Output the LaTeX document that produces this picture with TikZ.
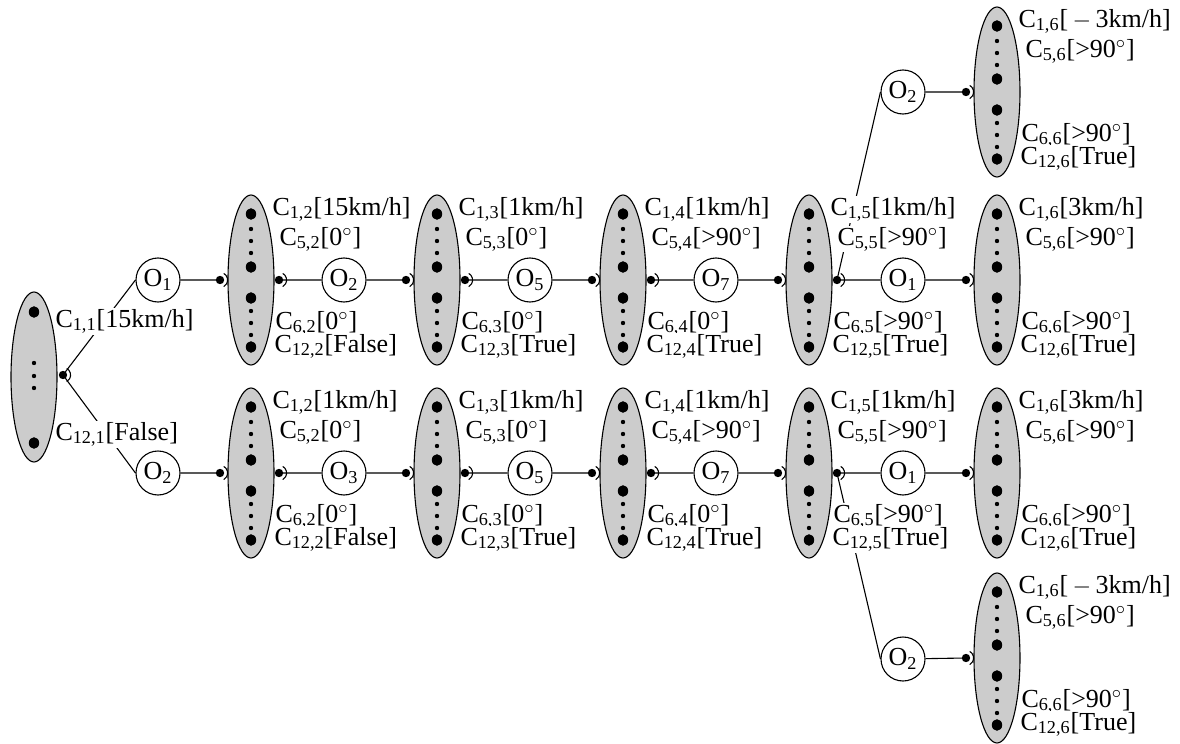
\documentclass[tikz,border=0pt]{standalone}
\usepackage{fontspec}
\setmainfont{Liberation Serif}
\usepackage{tikz}
\usetikzlibrary{shapes.geometric}
\usetikzlibrary{calc}

\newcommand{\cv}[1]{C\textsubscript{#1}}
\newcommand{\ov}[1]{O\textsubscript{#1}}
\newcommand{\dg}{$^\circ$}
% one state: ellipse with its dots and its two sockets
\newcommand{\clu}[3]{%
  \node[grp] (#1) at (#2,#3) {};
  \foreach \d in {-66,-13,18,67} {\fill (#2,#3+\d) ellipse (2.6pt and 2.9pt);}
  \foreach \d in {-51,-39,-27,31,43,55} {\fill (#2,#3+\d) circle (1.1pt);}
  \coordinate (#1-l) at (#2-31,#3);
  \coordinate (#1-r) at (#2+28,#3);
}
\newcommand{\labs}[5]{%
  \node[lab] (#1-a) at ($(#1)+(20,-65)$) {#2};
  \node[lab] (#1-b) at ($(#1)+(27,-35)$) {#3};
  \node[lab] (#1-c) at ($(#1)+(23,49)$) {#4};
  \node[lab] (#1-d) at ($(#1)+(22,72)$) {#5};
}
\newcommand{\sock}[1]{\fill (#1) circle (2.1pt); \draw ($(#1)+(60:3.8pt)$) arc[start angle=60,end angle=-60,radius=3.8pt];}

\begin{document}
\fontsize{13}{15}\selectfont
\begin{tikzpicture}[x=0.5pt,y=-0.5pt,line width=0.55pt,
    grp/.style={ellipse,draw,fill=gray!40,minimum width=23pt,minimum height=85pt,inner sep=0pt},
    op/.style={circle,draw,fill=white,minimum size=22pt,inner sep=0pt},
    lab/.style={anchor=base west,fill=white,inner sep=0.5pt}]
  \useasboundingbox (0,0) rectangle (1180,744);

  % start state
  \node[grp] (e1) at (34,377) {};
  \fill (34,312) ellipse (2.6pt and 2.9pt) (34,443) ellipse (2.6pt and 2.9pt);
  \foreach \d in {363,376,388} {\fill (34,\d) circle (1.1pt);}
  \coordinate (e1-r) at (63,375);

  % upper branch
  \clu{e2u}{251}{280} \clu{e3u}{437}{280} \clu{e4u}{623}{280}
  \clu{e5u}{809}{280} \clu{e6u}{997}{280} \clu{e6t}{997}{92}
  % lower branch
  \clu{e2l}{251}{473} \clu{e3l}{437}{473} \clu{e4l}{623}{473}
  \clu{e5l}{809}{473} \clu{e6l}{997}{473} \clu{e6b}{997}{658}

  % operators
  \node[op] (o1u) at (158,280) {\ov{1}};
  \node[op] (o2u) at (344,280) {\ov{2}};
  \node[op] (o3u) at (530,280) {\ov{5}};
  \node[op] (o4u) at (716,280) {\ov{7}};
  \node[op] (o5u) at (903,280) {\ov{1}};
  \node[op] (o5t) at (903,92) {\ov{2}};
  \node[op] (o1l) at (158,473) {\ov{2}};
  \node[op] (o2l) at (344,473) {\ov{3}};
  \node[op] (o3l) at (530,473) {\ov{5}};
  \node[op] (o4l) at (716,473) {\ov{7}};
  \node[op] (o5l) at (903,473) {\ov{1}};
  \node[op] (o5b) at (903,659) {\ov{2}};

  % connectors
  \draw (e1-r) -- (o1u.west) (e1-r) -- (o1l.west);
  \draw (o1u) -- (e2u-l) (e2u-r) -- (o2u) (o2u) -- (e3u-l) (e3u-r) -- (o3u)
        (o3u) -- (e4u-l) (e4u-r) -- (o4u) (o4u) -- (e5u-l) (e5u-r) -- (o5u)
        (o5u) -- (e6u-l) (e5u-r) -- (o5t.west) (o5t) -- (e6t-l);
  \draw (o1l) -- (e2l-l) (e2l-r) -- (o2l) (o2l) -- (e3l-l) (e3l-r) -- (o3l)
        (o3l) -- (e4l-l) (e4l-r) -- (o4l) (o4l) -- (e5l-l) (e5l-r) -- (o5l)
        (o5l) -- (e6l-l) (e5l-r) -- (o5b.west) (o5b) -- (e6b-l);
  \foreach \s in {e1-r,e2u-l,e2u-r,e3u-l,e3u-r,e4u-l,e4u-r,e5u-l,e5u-r,e6u-l,e6t-l,
                  e2l-l,e2l-r,e3l-l,e3l-r,e4l-l,e4l-r,e5l-l,e5l-r,e6l-l,e6b-l}
    {\sock{\s}}

  % labels
  \node[lab] (e1-a) at (54,327) {\cv{1,1}[15km/h]};
  \node[lab] (e1-b) at (54,440) {\cv{12,1}[False]};
  \labs{e2u}{\cv{1,2}[15km/h]}{\cv{5,2}[0\dg]}{\cv{6,2}[0\dg]}{\cv{12,2}[False]}
  \labs{e3u}{\cv{1,3}[1km/h]}{\cv{5,3}[0\dg]}{\cv{6,3}[0\dg]}{\cv{12,3}[True]}
  \labs{e4u}{\cv{1,4}[1km/h]}{\cv{5,4}[>90\dg]}{\cv{6,4}[0\dg]}{\cv{12,4}[True]}
  \labs{e5u}{\cv{1,5}[1km/h]}{\cv{5,5}[>90\dg]}{\cv{6,5}[>90\dg]}{\cv{12,5}[True]}
  \labs{e6u}{\cv{1,6}[3km/h]}{\cv{5,6}[>90\dg]}{\cv{6,6}[>90\dg]}{\cv{12,6}[True]}
  \labs{e6t}{\cv{1,6}[\,$-$\,3km/h]}{\cv{5,6}[>90\dg]}{\cv{6,6}[>90\dg]}{\cv{12,6}[True]}
  \labs{e2l}{\cv{1,2}[1km/h]}{\cv{5,2}[0\dg]}{\cv{6,2}[0\dg]}{\cv{12,2}[False]}
  \labs{e3l}{\cv{1,3}[1km/h]}{\cv{5,3}[0\dg]}{\cv{6,3}[0\dg]}{\cv{12,3}[True]}
  \labs{e4l}{\cv{1,4}[1km/h]}{\cv{5,4}[>90\dg]}{\cv{6,4}[0\dg]}{\cv{12,4}[True]}
  \labs{e5l}{\cv{1,5}[1km/h]}{\cv{5,5}[>90\dg]}{\cv{6,5}[>90\dg]}{\cv{12,5}[True]}
  \labs{e6l}{\cv{1,6}[3km/h]}{\cv{5,6}[>90\dg]}{\cv{6,6}[>90\dg]}{\cv{12,6}[True]}
  \labs{e6b}{\cv{1,6}[\,$-$\,3km/h]}{\cv{5,6}[>90\dg]}{\cv{6,6}[>90\dg]}{\cv{12,6}[True]}
\end{tikzpicture}
\end{document}
